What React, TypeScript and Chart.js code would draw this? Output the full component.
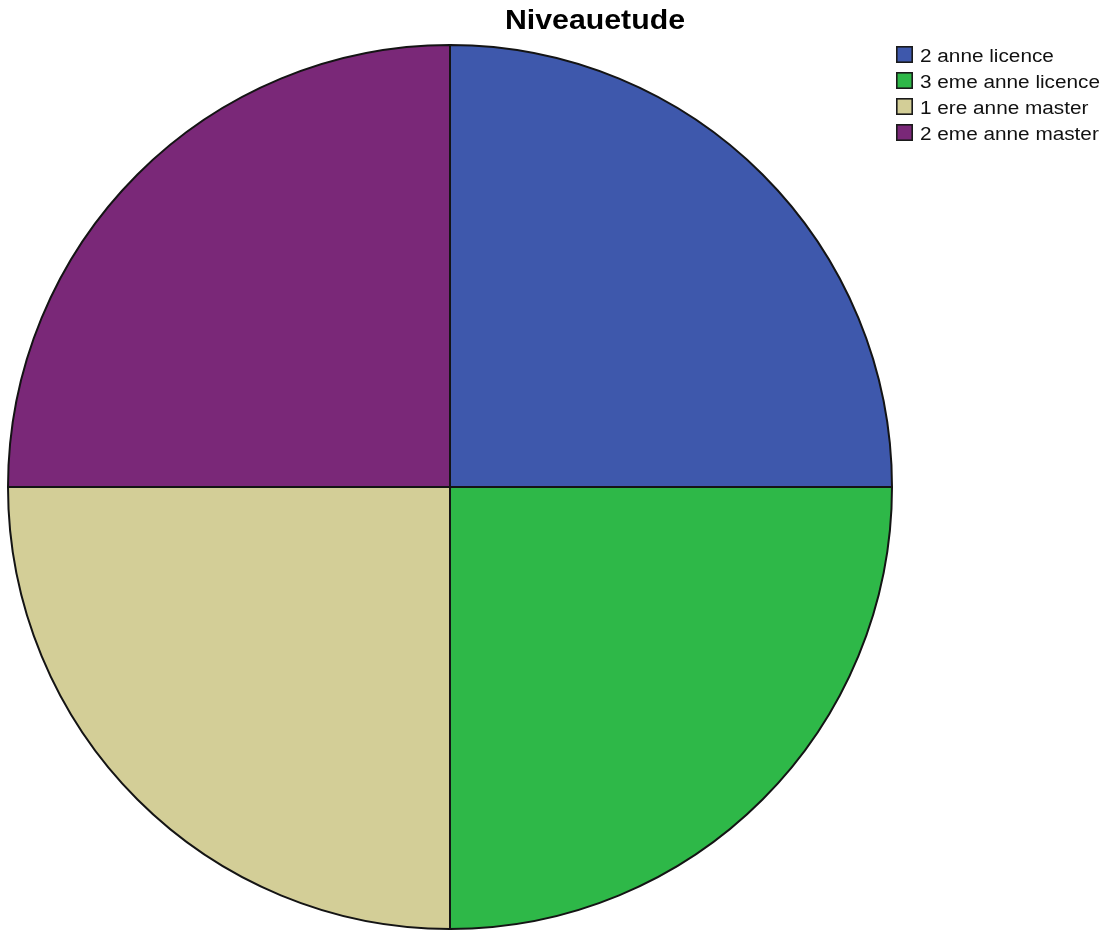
import React, { useEffect, useRef } from "react";
import { Chart, registerables } from "chart.js";

Chart.register(...registerables);

const categories = ["2 anne licence", "3 eme anne licence", "1 ere anne master", "2 eme anne master"];
const counts = [25, 25, 25, 25];
const colors = ["#3E58AC", "#2EB848", "#D3CE97", "#7A2878"];
const titleText = "Niveauetude";

const overlayPlugin = {
  id: "spssOverlay",
  afterDraw(chart: any) {
    const ctx = chart.ctx as CanvasRenderingContext2D;
    ctx.save();
    // title
    ctx.font = "bold 27px 'Liberation Sans', Arial, sans-serif";
    ctx.fillStyle = "#000";
    ctx.textBaseline = "alphabetic";
    const tw = ctx.measureText(titleText).width;
    const tsx = 180 / tw;
    ctx.save();
    ctx.translate(595 - 90, 29);
    ctx.scale(tsx, 1);
    ctx.fillText(titleText, 0, 0);
    ctx.restore();

    // legend
    ctx.font = "18px 'Liberation Sans', Arial, sans-serif";
    const ref = ctx.measureText("3 eme anne licence").width;
    const lsx = 180 / ref;
    const labels = chart.data.labels as string[];
    const bg = chart.data.datasets[0].backgroundColor as string[];
    labels.forEach((lab, i) => {
      const y = 46 + i * 26;
      ctx.fillStyle = bg[i];
      ctx.fillRect(896, y, 17, 17);
      ctx.strokeStyle = "#1a1a1a";
      ctx.lineWidth = 1.6;
      ctx.strokeRect(896.8, y + 0.8, 15.4, 15.4);
      ctx.fillStyle = "#111";
      ctx.save();
      ctx.translate(920, y + 16);
      ctx.scale(lsx, 1);
      ctx.fillText(lab, 0, 0);
      ctx.restore();
    });
    ctx.restore();
  },
};

export default function App() {
  const ref = useRef<HTMLCanvasElement>(null);
  useEffect(() => {
    if (!ref.current) return;
    const chart = new Chart(ref.current, {
      type: "pie",
      data: {
        labels: categories,
        datasets: [
          {
            data: counts,
            backgroundColor: colors,
            borderColor: "#141414",
            borderWidth: 2,
          },
        ],
      },
      options: {
        responsive: false,
        animation: false,
        layout: { padding: { left: 7, top: 44, right: 218, bottom: 6 } },
        plugins: {
          legend: { display: false },
          title: { display: false },
          tooltip: { enabled: false },
        },
      },
      plugins: [overlayPlugin],
    });
    return () => chart.destroy();
  }, []);
  return (
    <div style={{ position: "absolute", left: 0, top: 0, width: 1111, height: 936, background: "#fff" }}>
      <canvas ref={ref} width={1111} height={936} />
    </div>
  );
}
